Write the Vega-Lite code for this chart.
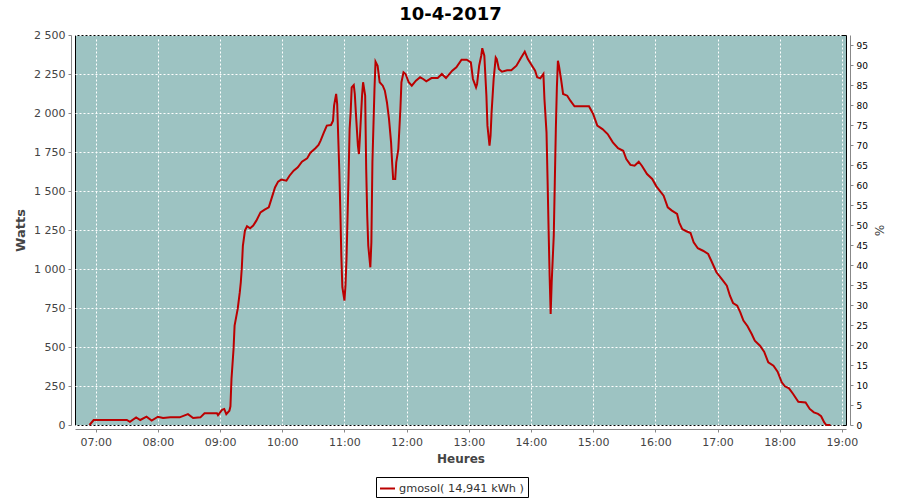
{
  "$schema": "https://vega.github.io/schema/vega-lite/v6.json",
  "autosize": {"type": "none"},
  "padding": {"left": 75, "top": 35, "right": 54, "bottom": 74},
  "width": 771,
  "height": 390,
  "background": "white",
  "title": {"text": "10-4-2017", "font": "DejaVu Sans", "fontSize": 18, "fontWeight": "bold", "color": "black", "anchor": "middle", "dx": -10, "offset": 5},
  "config": {
    "locale": {"number": {"decimal": ",", "thousands": " ", "grouping": [3], "currency": ["", " €"]}},
    "view": {"fill": "#9DC3C2", "stroke": "black", "strokeWidth": 1},
    "axis": {"labelFont": "DejaVu Sans", "labelFontSize": 11, "labelColor": "#444444", "titleFont": "DejaVu Sans", "titleFontSize": 12, "titleFontWeight": "bold", "titleColor": "#444444", "domainColor": "#888888", "tickColor": "#888888", "tickSize": 3, "offset": 4, "gridColor": "white", "gridDash": [2, 2], "gridOpacity": 1, "gridWidth": 1}
  },
  "data": {
    "values": [
      {"heure": "2017-04-10T06:54", "watts": 0}, {"heure": "2017-04-10T06:58", "watts": 32}, {"heure": "2017-04-10T07:30", "watts": 32}, {"heure": "2017-04-10T07:33", "watts": 20},
      {"heure": "2017-04-10T07:39", "watts": 49}, {"heure": "2017-04-10T07:43", "watts": 32}, {"heure": "2017-04-10T07:49", "watts": 53}, {"heure": "2017-04-10T07:54", "watts": 28},
      {"heure": "2017-04-10T08:00", "watts": 53}, {"heure": "2017-04-10T08:05", "watts": 45}, {"heure": "2017-04-10T08:12", "watts": 49}, {"heure": "2017-04-10T08:21", "watts": 49},
      {"heure": "2017-04-10T08:29", "watts": 70}, {"heure": "2017-04-10T08:34", "watts": 45}, {"heure": "2017-04-10T08:41", "watts": 49}, {"heure": "2017-04-10T08:45", "watts": 75},
      {"heure": "2017-04-10T08:57", "watts": 75}, {"heure": "2017-04-10T08:58", "watts": 63}, {"heure": "2017-04-10T09:02", "watts": 98}, {"heure": "2017-04-10T09:04", "watts": 103},
      {"heure": "2017-04-10T09:06", "watts": 70}, {"heure": "2017-04-10T09:09", "watts": 92}, {"heure": "2017-04-10T09:10", "watts": 120}, {"heure": "2017-04-10T09:11", "watts": 295},
      {"heure": "2017-04-10T09:13", "watts": 487}, {"heure": "2017-04-10T09:14", "watts": 637}, {"heure": "2017-04-10T09:17", "watts": 744}, {"heure": "2017-04-10T09:19", "watts": 850},
      {"heure": "2017-04-10T09:20", "watts": 915}, {"heure": "2017-04-10T09:21", "watts": 1011}, {"heure": "2017-04-10T09:22", "watts": 1149}, {"heure": "2017-04-10T09:24", "watts": 1246},
      {"heure": "2017-04-10T09:26", "watts": 1274}, {"heure": "2017-04-10T09:29", "watts": 1261}, {"heure": "2017-04-10T09:32", "watts": 1278}, {"heure": "2017-04-10T09:35", "watts": 1310},
      {"heure": "2017-04-10T09:39", "watts": 1363}, {"heure": "2017-04-10T09:43", "watts": 1380}, {"heure": "2017-04-10T09:47", "watts": 1395}, {"heure": "2017-04-10T09:50", "watts": 1459},
      {"heure": "2017-04-10T09:53", "watts": 1523}, {"heure": "2017-04-10T09:56", "watts": 1560}, {"heure": "2017-04-10T09:59", "watts": 1573}, {"heure": "2017-04-10T10:04", "watts": 1566},
      {"heure": "2017-04-10T10:07", "watts": 1598}, {"heure": "2017-04-10T10:11", "watts": 1630}, {"heure": "2017-04-10T10:15", "watts": 1652}, {"heure": "2017-04-10T10:19", "watts": 1688},
      {"heure": "2017-04-10T10:24", "watts": 1709}, {"heure": "2017-04-10T10:27", "watts": 1744}, {"heure": "2017-04-10T10:32", "watts": 1774}, {"heure": "2017-04-10T10:35", "watts": 1795},
      {"heure": "2017-04-10T10:37", "watts": 1823}, {"heure": "2017-04-10T10:40", "watts": 1872}, {"heure": "2017-04-10T10:43", "watts": 1919}, {"heure": "2017-04-10T10:47", "watts": 1923},
      {"heure": "2017-04-10T10:49", "watts": 1951}, {"heure": "2017-04-10T10:50", "watts": 2047}, {"heure": "2017-04-10T10:52", "watts": 2122}, {"heure": "2017-04-10T10:53", "watts": 2058},
      {"heure": "2017-04-10T10:55", "watts": 1641}, {"heure": "2017-04-10T10:56", "watts": 1385}, {"heure": "2017-04-10T10:57", "watts": 1085}, {"heure": "2017-04-10T10:58", "watts": 883},
      {"heure": "2017-04-10T11:00", "watts": 797}, {"heure": "2017-04-10T11:01", "watts": 893}, {"heure": "2017-04-10T11:02", "watts": 1064}, {"heure": "2017-04-10T11:04", "watts": 1598},
      {"heure": "2017-04-10T11:05", "watts": 1897}, {"heure": "2017-04-10T11:06", "watts": 2004}, {"heure": "2017-04-10T11:07", "watts": 2164}, {"heure": "2017-04-10T11:09", "watts": 2179},
      {"heure": "2017-04-10T11:10", "watts": 2122}, {"heure": "2017-04-10T11:11", "watts": 2004}, {"heure": "2017-04-10T11:13", "watts": 1790}, {"heure": "2017-04-10T11:14", "watts": 1737},
      {"heure": "2017-04-10T11:15", "watts": 1854}, {"heure": "2017-04-10T11:17", "watts": 2111}, {"heure": "2017-04-10T11:18", "watts": 2197}, {"heure": "2017-04-10T11:20", "watts": 2111},
      {"heure": "2017-04-10T11:21", "watts": 1641}, {"heure": "2017-04-10T11:22", "watts": 1342}, {"heure": "2017-04-10T11:23", "watts": 1149}, {"heure": "2017-04-10T11:25", "watts": 1011},
      {"heure": "2017-04-10T11:26", "watts": 1171}, {"heure": "2017-04-10T11:27", "watts": 1684}, {"heure": "2017-04-10T11:29", "watts": 2154}, {"heure": "2017-04-10T11:30", "watts": 2329},
      {"heure": "2017-04-10T11:32", "watts": 2303}, {"heure": "2017-04-10T11:34", "watts": 2197}, {"heure": "2017-04-10T11:37", "watts": 2175}, {"heure": "2017-04-10T11:39", "watts": 2143},
      {"heure": "2017-04-10T11:41", "watts": 2069}, {"heure": "2017-04-10T11:43", "watts": 1962}, {"heure": "2017-04-10T11:45", "watts": 1812}, {"heure": "2017-04-10T11:46", "watts": 1684},
      {"heure": "2017-04-10T11:47", "watts": 1577}, {"heure": "2017-04-10T11:49", "watts": 1577}, {"heure": "2017-04-10T11:50", "watts": 1684}, {"heure": "2017-04-10T11:52", "watts": 1769},
      {"heure": "2017-04-10T11:54", "watts": 2026}, {"heure": "2017-04-10T11:55", "watts": 2197}, {"heure": "2017-04-10T11:57", "watts": 2261}, {"heure": "2017-04-10T11:59", "watts": 2250},
      {"heure": "2017-04-10T12:02", "watts": 2197}, {"heure": "2017-04-10T12:05", "watts": 2175}, {"heure": "2017-04-10T12:09", "watts": 2207}, {"heure": "2017-04-10T12:13", "watts": 2229},
      {"heure": "2017-04-10T12:16", "watts": 2218}, {"heure": "2017-04-10T12:19", "watts": 2203}, {"heure": "2017-04-10T12:24", "watts": 2224}, {"heure": "2017-04-10T12:30", "watts": 2224},
      {"heure": "2017-04-10T12:34", "watts": 2250}, {"heure": "2017-04-10T12:38", "watts": 2224}, {"heure": "2017-04-10T12:44", "watts": 2271}, {"heure": "2017-04-10T12:48", "watts": 2293},
      {"heure": "2017-04-10T12:53", "watts": 2342}, {"heure": "2017-04-10T12:58", "watts": 2342}, {"heure": "2017-04-10T13:02", "watts": 2325}, {"heure": "2017-04-10T13:04", "watts": 2218},
      {"heure": "2017-04-10T13:07", "watts": 2164}, {"heure": "2017-04-10T13:08", "watts": 2186}, {"heure": "2017-04-10T13:10", "watts": 2303}, {"heure": "2017-04-10T13:12", "watts": 2367},
      {"heure": "2017-04-10T13:13", "watts": 2415}, {"heure": "2017-04-10T13:15", "watts": 2367}, {"heure": "2017-04-10T13:17", "watts": 2111}, {"heure": "2017-04-10T13:18", "watts": 1919},
      {"heure": "2017-04-10T13:20", "watts": 1790}, {"heure": "2017-04-10T13:21", "watts": 1854}, {"heure": "2017-04-10T13:22", "watts": 2004}, {"heure": "2017-04-10T13:24", "watts": 2218},
      {"heure": "2017-04-10T13:26", "watts": 2356}, {"heure": "2017-04-10T13:27", "watts": 2346}, {"heure": "2017-04-10T13:29", "watts": 2282}, {"heure": "2017-04-10T13:32", "watts": 2265},
      {"heure": "2017-04-10T13:37", "watts": 2274}, {"heure": "2017-04-10T13:41", "watts": 2274}, {"heure": "2017-04-10T13:46", "watts": 2303}, {"heure": "2017-04-10T13:50", "watts": 2350},
      {"heure": "2017-04-10T13:54", "watts": 2393}, {"heure": "2017-04-10T13:57", "watts": 2346}, {"heure": "2017-04-10T14:01", "watts": 2303}, {"heure": "2017-04-10T14:04", "watts": 2271},
      {"heure": "2017-04-10T14:06", "watts": 2229}, {"heure": "2017-04-10T14:09", "watts": 2222}, {"heure": "2017-04-10T14:12", "watts": 2250}, {"heure": "2017-04-10T14:13", "watts": 2090},
      {"heure": "2017-04-10T14:15", "watts": 1876}, {"heure": "2017-04-10T14:16", "watts": 1577}, {"heure": "2017-04-10T14:17", "watts": 1256}, {"heure": "2017-04-10T14:18", "watts": 957},
      {"heure": "2017-04-10T14:19", "watts": 712}, {"heure": "2017-04-10T14:20", "watts": 915}, {"heure": "2017-04-10T14:22", "watts": 1214}, {"heure": "2017-04-10T14:23", "watts": 1556},
      {"heure": "2017-04-10T14:24", "watts": 1897}, {"heure": "2017-04-10T14:25", "watts": 2164}, {"heure": "2017-04-10T14:26", "watts": 2335}, {"heure": "2017-04-10T14:27", "watts": 2303},
      {"heure": "2017-04-10T14:29", "watts": 2218}, {"heure": "2017-04-10T14:31", "watts": 2122}, {"heure": "2017-04-10T14:35", "watts": 2111}, {"heure": "2017-04-10T14:38", "watts": 2079},
      {"heure": "2017-04-10T14:42", "watts": 2043}, {"heure": "2017-04-10T14:56", "watts": 2043}, {"heure": "2017-04-10T15:00", "watts": 1994}, {"heure": "2017-04-10T15:04", "watts": 1919},
      {"heure": "2017-04-10T15:09", "watts": 1897}, {"heure": "2017-04-10T15:14", "watts": 1865}, {"heure": "2017-04-10T15:19", "watts": 1812}, {"heure": "2017-04-10T15:24", "watts": 1774},
      {"heure": "2017-04-10T15:29", "watts": 1758}, {"heure": "2017-04-10T15:32", "watts": 1705}, {"heure": "2017-04-10T15:36", "watts": 1667}, {"heure": "2017-04-10T15:40", "watts": 1662},
      {"heure": "2017-04-10T15:44", "watts": 1688}, {"heure": "2017-04-10T15:47", "watts": 1662}, {"heure": "2017-04-10T15:52", "watts": 1609}, {"heure": "2017-04-10T15:57", "watts": 1577},
      {"heure": "2017-04-10T16:01", "watts": 1530}, {"heure": "2017-04-10T16:08", "watts": 1470}, {"heure": "2017-04-10T16:12", "watts": 1395}, {"heure": "2017-04-10T16:16", "watts": 1374},
      {"heure": "2017-04-10T16:21", "watts": 1353}, {"heure": "2017-04-10T16:23", "watts": 1299}, {"heure": "2017-04-10T16:26", "watts": 1256}, {"heure": "2017-04-10T16:30", "watts": 1242},
      {"heure": "2017-04-10T16:34", "watts": 1231}, {"heure": "2017-04-10T16:37", "watts": 1171}, {"heure": "2017-04-10T16:41", "watts": 1133}, {"heure": "2017-04-10T16:46", "watts": 1117},
      {"heure": "2017-04-10T16:51", "watts": 1096}, {"heure": "2017-04-10T16:54", "watts": 1053}, {"heure": "2017-04-10T16:59", "watts": 979}, {"heure": "2017-04-10T17:04", "watts": 936},
      {"heure": "2017-04-10T17:09", "watts": 893}, {"heure": "2017-04-10T17:12", "watts": 829}, {"heure": "2017-04-10T17:15", "watts": 782}, {"heure": "2017-04-10T17:19", "watts": 765},
      {"heure": "2017-04-10T17:22", "watts": 722}, {"heure": "2017-04-10T17:25", "watts": 669}, {"heure": "2017-04-10T17:29", "watts": 633}, {"heure": "2017-04-10T17:33", "watts": 583},
      {"heure": "2017-04-10T17:36", "watts": 540}, {"heure": "2017-04-10T17:41", "watts": 508}, {"heure": "2017-04-10T17:45", "watts": 470}, {"heure": "2017-04-10T17:49", "watts": 402},
      {"heure": "2017-04-10T17:54", "watts": 380}, {"heure": "2017-04-10T17:58", "watts": 342}, {"heure": "2017-04-10T18:02", "watts": 274}, {"heure": "2017-04-10T18:05", "watts": 248},
      {"heure": "2017-04-10T18:09", "watts": 235}, {"heure": "2017-04-10T18:13", "watts": 199}, {"heure": "2017-04-10T18:18", "watts": 149}, {"heure": "2017-04-10T18:25", "watts": 145},
      {"heure": "2017-04-10T18:29", "watts": 103}, {"heure": "2017-04-10T18:33", "watts": 81}, {"heure": "2017-04-10T18:37", "watts": 71}, {"heure": "2017-04-10T18:40", "watts": 56},
      {"heure": "2017-04-10T18:43", "watts": 17}, {"heure": "2017-04-10T18:45", "watts": 0}, {"heure": "2017-04-10T18:49", "watts": 0}
    ]
  },
  "layer": [
    {
      "mark": {"type": "line", "strokeWidth": 2},
      "encoding": {
        "x": {
          "field": "heure", "type": "temporal", "title": "Heures",
          "scale": {"domain": [{"year": 2017, "month": 4, "date": 10, "hours": 6, "minutes": 40}, {"year": 2017, "month": 4, "date": 10, "hours": 19, "minutes": 4}]},
          "axis": {"format": "%H:%M", "tickCount": 13, "grid": true, "labelPadding": 4, "titlePadding": 6, "labelFlush": false}
        },
        "y": {
          "field": "watts", "type": "quantitative", "title": "Watts",
          "scale": {"domain": [0, 2500], "nice": false},
          "axis": {"values": [0, 250, 500, 750, 1000, 1250, 1500, 1750, 2000, 2250, 2500], "format": ",.0f", "grid": true, "labelPadding": 3, "titlePadding": 6, "titleFontSize": 13}
        },
        "color": {
          "datum": "gmosol( 14,941 kWh )",
          "scale": {"range": ["#BB0000"]},
          "legend": {"title": null, "orient": "none", "legendX": 301, "legendY": 442, "symbolType": "stroke", "symbolSize": 225, "symbolStrokeWidth": 2, "labelFont": "DejaVu Sans", "labelFontSize": 11.3, "labelColor": "#333333", "strokeColor": "black", "padding": 3, "labelOffset": 3}
        }
      }
    },
    {
      "mark": {"type": "point", "opacity": 0},
      "encoding": {
        "x": {"field": "heure", "type": "temporal"},
        "y": {
          "datum": 0, "type": "quantitative",
          "scale": {"domain": [0, 97.5], "nice": false},
          "axis": {"orient": "right", "title": "%", "titleFontWeight": "normal", "values": [0, 5, 10, 15, 20, 25, 30, 35, 40, 45, 50, 55, 60, 65, 70, 75, 80, 85, 90, 95], "labelFontSize": 9, "labelColor": "black", "grid": false, "labelPadding": 3, "titlePadding": 4}
        }
      }
    }
  ],
  "resolve": {"scale": {"y": "independent"}}
}
